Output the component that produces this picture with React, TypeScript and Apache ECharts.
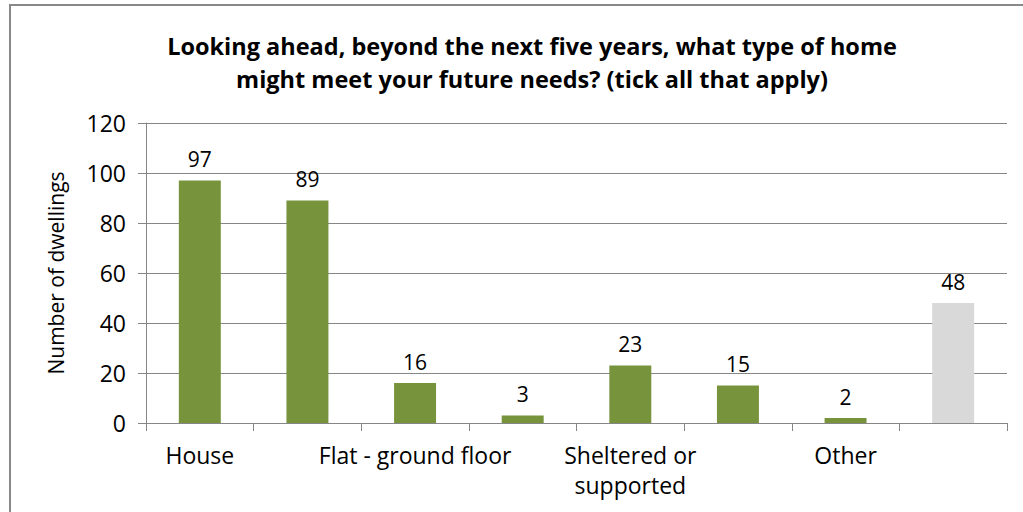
import React, { useEffect, useRef } from "react";
import * as echarts from "echarts";

const categories = ["House", "", "Flat - ground floor", "", "Sheltered or\nsupported", "", "Other", ""];
const values = [97, 89, 16, 3, 23, 15, 2, 48];
const barColors = ["#77933C", "#77933C", "#77933C", "#77933C", "#77933C", "#77933C", "#77933C", "#D9D9D9"];
const titleText = "Looking ahead, beyond the next five years, what type of home\nmight meet your future needs? (tick all that apply)";
const yAxisName = "Number of dwellings";

const FONT = "'Open Sans', sans-serif";

export default function App() {
  const ref = useRef<HTMLDivElement>(null);
  useEffect(() => {
    const chart = echarts.init(ref.current!, undefined, { renderer: "svg" });
    chart.setOption({
      animation: false,
      backgroundColor: "#ffffff",
      title: {
        text: titleText,
        left: 527,
        textAlign: "center",
        top: 24,
        textStyle: { fontFamily: FONT, fontWeight: "bold", fontSize: 23.5, lineHeight: 33, color: "#000" },
      },
      graphic: [
        {
          type: "rect",
          shape: { x: 10, y: 5, width: 1030, height: 530 },
          style: { fill: "none", stroke: "#888888", lineWidth: 2 },
          silent: true,
        },
      ],
      grid: { left: 146, right: 16, top: 123, bottom: 89 },
      xAxis: {
        type: "category",
        data: categories,
        axisLine: { lineStyle: { color: "#868686" } },
        axisTick: { show: true, interval: 0, length: 8, lineStyle: { color: "#868686" } },
        axisLabel: {
          interval: 1,
          fontFamily: FONT,
          fontSize: 23,
          color: "#000",
          margin: 17,
          lineHeight: 30,
        },
      },
      yAxis: {
        type: "value",
        min: 0,
        max: 120,
        interval: 20,
        name: yAxisName,
        nameLocation: "middle",
        nameGap: 80,
        nameTextStyle: { fontFamily: FONT, fontSize: 21, color: "#000" },
        axisLine: { show: true, lineStyle: { color: "#868686" } },
        axisTick: { show: true, length: 8, lineStyle: { color: "#868686" } },
        axisLabel: { fontFamily: FONT, fontSize: 23, color: "#000", margin: 20 },
        splitLine: { lineStyle: { color: "#868686" } },
      },
      series: [
        {
          type: "bar",
          barWidth: "39%",
          data: values.map((v, i) => ({ value: v, itemStyle: { color: barColors[i] } })),
          label: {
            show: true,
            position: "top",
            distance: 11,
            fontFamily: FONT,
            fontSize: 21,
            color: "#000",
          },
        },
      ],
    });
    return () => chart.dispose();
  }, []);
  return (
    <div
      ref={ref}
      style={{ position: "fixed", left: 0, top: 0, width: 1023, height: 512 }}
    />
  );
}
